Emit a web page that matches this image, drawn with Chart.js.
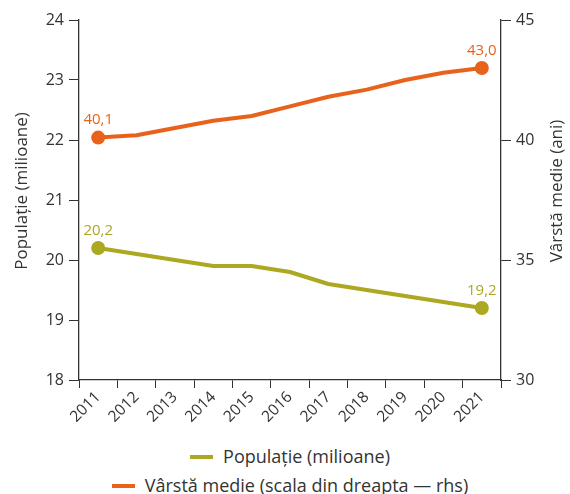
<!DOCTYPE html>
<html>
<head>
<meta charset="utf-8">
<script src="https://cdn.jsdelivr.net/npm/chart.js@4/dist/chart.umd.min.js"></script>
<style>
    html, body { margin: 0; padding: 0; background: #fff; }
    #wrap { position: relative; width: 570px; height: 494px; font-family: "Open Sans", sans-serif; }
    #chart-box { position: absolute; left: 0; top: 0; width: 570px; height: 434px; }
    .legend { position: absolute; left: 0; width: 580px; text-align: center; font-size: 18px; color: #333; line-height: 22px; }
    .legend span.swatch { display: inline-block; width: 23px; height: 4px; vertical-align: middle; margin-right: 10px; position: relative; top: -1px; }
</style>
</head>
<body>
<div id="wrap">
    <div id="chart-box"><canvas id="c"></canvas></div>
    <div id="legend"></div>
</div>
<script>
const YEARS = ['2011', '2012', '2013', '2014', '2015', '2016', '2017', '2018', '2019', '2020', '2021'];
const POPULATION = [20.2, 20.1, 20.0, 19.9, 19.9, 19.8, 19.6, 19.5, 19.4, 19.3, 19.2];
const MEDIAN_AGE = [40.1, 40.2, 40.5, 40.8, 41.0, 41.4, 41.8, 42.1, 42.5, 42.8, 43.0];
const LEFT_TICKS = [18, 19, 20, 21, 22, 23, 24];
const RIGHT_TICKS = [30, 35, 40, 45];
const LEFT_TITLE = 'Populație (milioane)';
const RIGHT_TITLE = 'Vârstă medie (ani)';

const OLIVE = '#aca821';
const ORANGE = '#e8621b';
const AXIS = '#333333';
const FONT = '"Open Sans", sans-serif';

// only first and last point get a marker + value label
const ends = (arr, r) => arr.map((_, i) => (i === 0 || i === arr.length - 1) ? r : 0);
const fmt = (v) => v.toFixed(1).replace('.', ',');

const endLabels = {
    id: 'endLabels',
    afterDatasetsDraw(chart) {
        const ctx = chart.ctx;
        ctx.save();
        ctx.font = '15px ' + FONT;
        ctx.textAlign = 'center';
        ctx.textBaseline = 'bottom';
        chart.data.datasets.forEach((ds, di) => {
            const meta = chart.getDatasetMeta(di);
            [0, ds.data.length - 1].forEach((i) => {
                const pt = meta.data[i];
                ctx.fillStyle = ds.borderColor;
                ctx.fillText(fmt(ds.data[i]), pt.x, pt.y - 10);
            });
        });
        ctx.restore();
    },
};

// both axis titles read bottom-to-top, so draw them by hand
const axisTitles = {
    id: 'axisTitles',
    afterDraw(chart) {
        const ctx = chart.ctx;
        const mid = (chart.chartArea.top + chart.chartArea.bottom) / 2 - 9;
        ctx.save();
        ctx.font = '17px ' + FONT;
        ctx.fillStyle = AXIS;
        ctx.textAlign = 'center';
        ctx.textBaseline = 'middle';
        [[22, LEFT_TITLE], [557, RIGHT_TITLE]].forEach(([x, text]) => {
            ctx.save();
            ctx.translate(x, mid);
            ctx.rotate(-Math.PI / 2);
            ctx.fillText(text, 0, 0);
            ctx.restore();
        });
        ctx.restore();
    },
};

const datasets = [
    {
        label: 'Populație (milioane)',
        data: POPULATION,
        yAxisID: 'y',
        borderColor: OLIVE,
        backgroundColor: OLIVE,
        borderWidth: 4,
        pointRadius: ends(POPULATION, 7),
        pointBackgroundColor: OLIVE,
        pointBorderWidth: 0,
        borderJoinStyle: 'round',
        tension: 0,
    },
    {
        label: 'Vârstă medie (scala din dreapta — rhs)',
        data: MEDIAN_AGE,
        yAxisID: 'y1',
        borderColor: ORANGE,
        backgroundColor: ORANGE,
        borderWidth: 4,
        pointRadius: ends(MEDIAN_AGE, 7),
        pointBackgroundColor: ORANGE,
        pointBorderWidth: 0,
        borderJoinStyle: 'round',
        tension: 0,
    },
];

new Chart(document.getElementById('c'), {
    type: 'line',
    data: { labels: YEARS, datasets },
    plugins: [endLabels, axisTitles],
    options: {
        responsive: true,
        maintainAspectRatio: false,
        animation: false,
        layout: { padding: { top: 20, left: 0, right: 0, bottom: 0 } },
        plugins: {
            legend: { display: false },
            tooltip: { enabled: false },
        },
        scales: {
            x: {
                offset: true,
                grid: { offset: true, drawOnChartArea: false, drawTicks: true, tickLength: 8, color: AXIS },
                border: { display: true, color: AXIS, width: 1.3 },
                ticks: {
                    color: AXIS,
                    font: { family: FONT, size: 15.5 },
                    minRotation: 45,
                    maxRotation: 45,
                    padding: 0,
                },
                afterFit: (s) => { s.height = 54; },
            },
            y: {
                position: 'left',
                min: 18,
                max: 24,
                afterBuildTicks: (s) => { s.ticks = LEFT_TICKS.map((v) => ({ value: v })); },
                grid: { drawOnChartArea: false, drawTicks: true, tickLength: 10, color: AXIS },
                border: { display: true, color: AXIS, width: 1.3 },
                ticks: { color: AXIS, font: { family: FONT, size: 16 }, padding: 5 },
                afterFit: (s) => { s.width = 79; },
            },
            y1: {
                position: 'right',
                min: 30,
                max: 45,
                afterBuildTicks: (s) => { s.ticks = RIGHT_TICKS.map((v) => ({ value: v })); },
                grid: { drawOnChartArea: false, drawTicks: true, tickLength: 10, color: AXIS },
                border: { display: true, color: AXIS, width: 1.3 },
                ticks: { color: AXIS, font: { family: FONT, size: 16 }, padding: 5 },
                afterFit: (s) => { s.width = 69; },
            },
        },
    },
});

// legend: one dataset per row, like the reference
const legend = document.getElementById('legend');
datasets.forEach((ds, i) => {
    const row = document.createElement('div');
    row.className = 'legend';
    row.style.top = (445 + i * 29) + 'px';
    row.innerHTML = '<span class="swatch" style="background:' + ds.borderColor + '"></span>' + ds.label;
    legend.appendChild(row);
});
</script>
</body>
</html>
